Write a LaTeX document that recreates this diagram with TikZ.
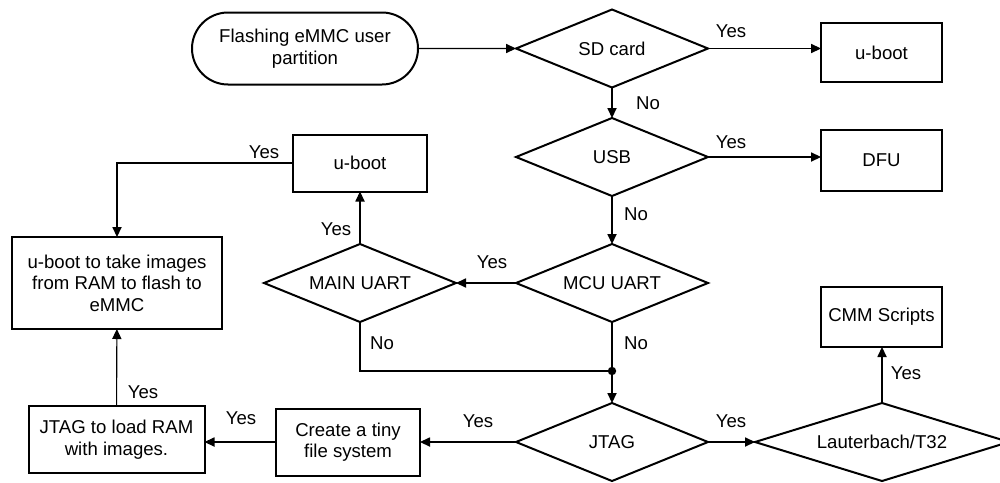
\documentclass[tikz,border=0pt]{standalone}
\usepackage{fontspec}
\setmainfont{Liberation Sans}
\usetikzlibrary{shapes.geometric,shapes.misc,arrows.meta}
\tikzset{
 base/.style={font=\fontsize{9.3}{10.8}\selectfont, align=center, inner sep=0pt, outer sep=0pt},
 proc/.style={base, draw, line width=1pt, rectangle},
 dec/.style={base, draw, line width=1pt, diamond, minimum width=96pt, minimum height=39pt, aspect=2.46},
 term/.style={base, draw, line width=1pt, rounded rectangle},
 conn/.style={line width=0.55pt, -{Triangle[length=5pt,width=4.6pt]}},
 plain/.style={line width=0.55pt},
 lbl/.style={font=\fontsize{9.3}{10.8}\selectfont, inner sep=0pt},
}
\begin{document}
\begin{tikzpicture}[x=0.5pt,y=-0.5pt]
\useasboundingbox (0,0) rectangle (1000,482);
\clip (0,0) rectangle (1000,482);
\node[term, minimum width=113pt, minimum height=36pt] (start) at (305,48.5) {Flashing eMMC user\\partition};
\node[dec] (sd) at (612,48.5) {SD card};
\node[proc, minimum width=60.5pt, minimum height=29.5pt] (ub1) at (881.5,52.5) {u-boot};
\node[dec] (usb) at (612,157) {USB};
\node[proc, minimum width=60.5pt, minimum height=30.5pt] (dfu) at (881.5,160.5) {DFU};
\node[dec] (mcu) at (612,283) {MCU UART};
\node[dec] (main) at (360,283) {MAIN UART};
\node[proc, minimum width=67pt, minimum height=28.5pt] (ub2) at (360,163) {u-boot};
\node[proc, minimum width=105pt, minimum height=46pt] (take) at (117,283) {u-boot to take images\\from RAM to flash to\\eMMC};
\node[dec] (jtag) at (612,442) {JTAG};
\node[dec, minimum width=127pt, aspect=3.26] (lau) at (882,442) {Lauterbach/T32};
\node[proc, minimum width=60.5pt, minimum height=30pt] (cmm) at (881.5,317) {CMM Scripts};
\node[proc, minimum width=88pt, minimum height=33.5pt] (load) at (116.5,439.5) {JTAG to load RAM\\with images.};
\node[proc, minimum width=72pt, minimum height=33.5pt] (fs) at (348,442) {Create a tiny\\file system};
\coordinate (junc) at (612,371);

\draw[conn] (start) -- (sd);
\draw[conn] (sd.east) -- (sd.east -| ub1.west);
\draw[conn] (sd) -- (usb);
\draw[conn] (usb.east) -- (usb.east -| dfu.west);
\draw[conn] (usb) -- (mcu);
\draw[conn] (mcu) -- (main);
\draw[conn] (main) -- (ub2);
\draw[conn] (ub2.west) -| (take.north);
\draw[plain] (main.south) |- (junc);
\draw[conn] (mcu) -- (jtag);
\fill (junc) circle (2.1pt);
\draw[conn] (jtag) -- (fs);
\draw[conn] (fs.west) -- (fs.west -| load.east);
\draw[conn] (load) -- (take);
\draw[conn] (jtag) -- (lau);
\draw[conn] (lau.north) -- (lau.north |- cmm.south);

\node[lbl] (l1) at (731,31) {Yes};
\node[lbl] (l2) at (731,142) {Yes};
\node[lbl] (l3) at (648,103) {No};
\node[lbl] (l4) at (636,214) {No};
\node[lbl] (l5) at (264,152) {Yes};
\node[lbl] (l6) at (336,229) {Yes};
\node[lbl] (l7) at (492,262) {Yes};
\node[lbl] (l8) at (382,343) {No};
\node[lbl] (l9) at (636,343) {No};
\node[lbl] (l10) at (143,392) {Yes};
\node[lbl] (l11) at (241,418) {Yes};
\node[lbl] (l12) at (478,421) {Yes};
\node[lbl] (l13) at (731,421) {Yes};
\node[lbl] (l14) at (906,373) {Yes};
\end{tikzpicture}
\end{document}
